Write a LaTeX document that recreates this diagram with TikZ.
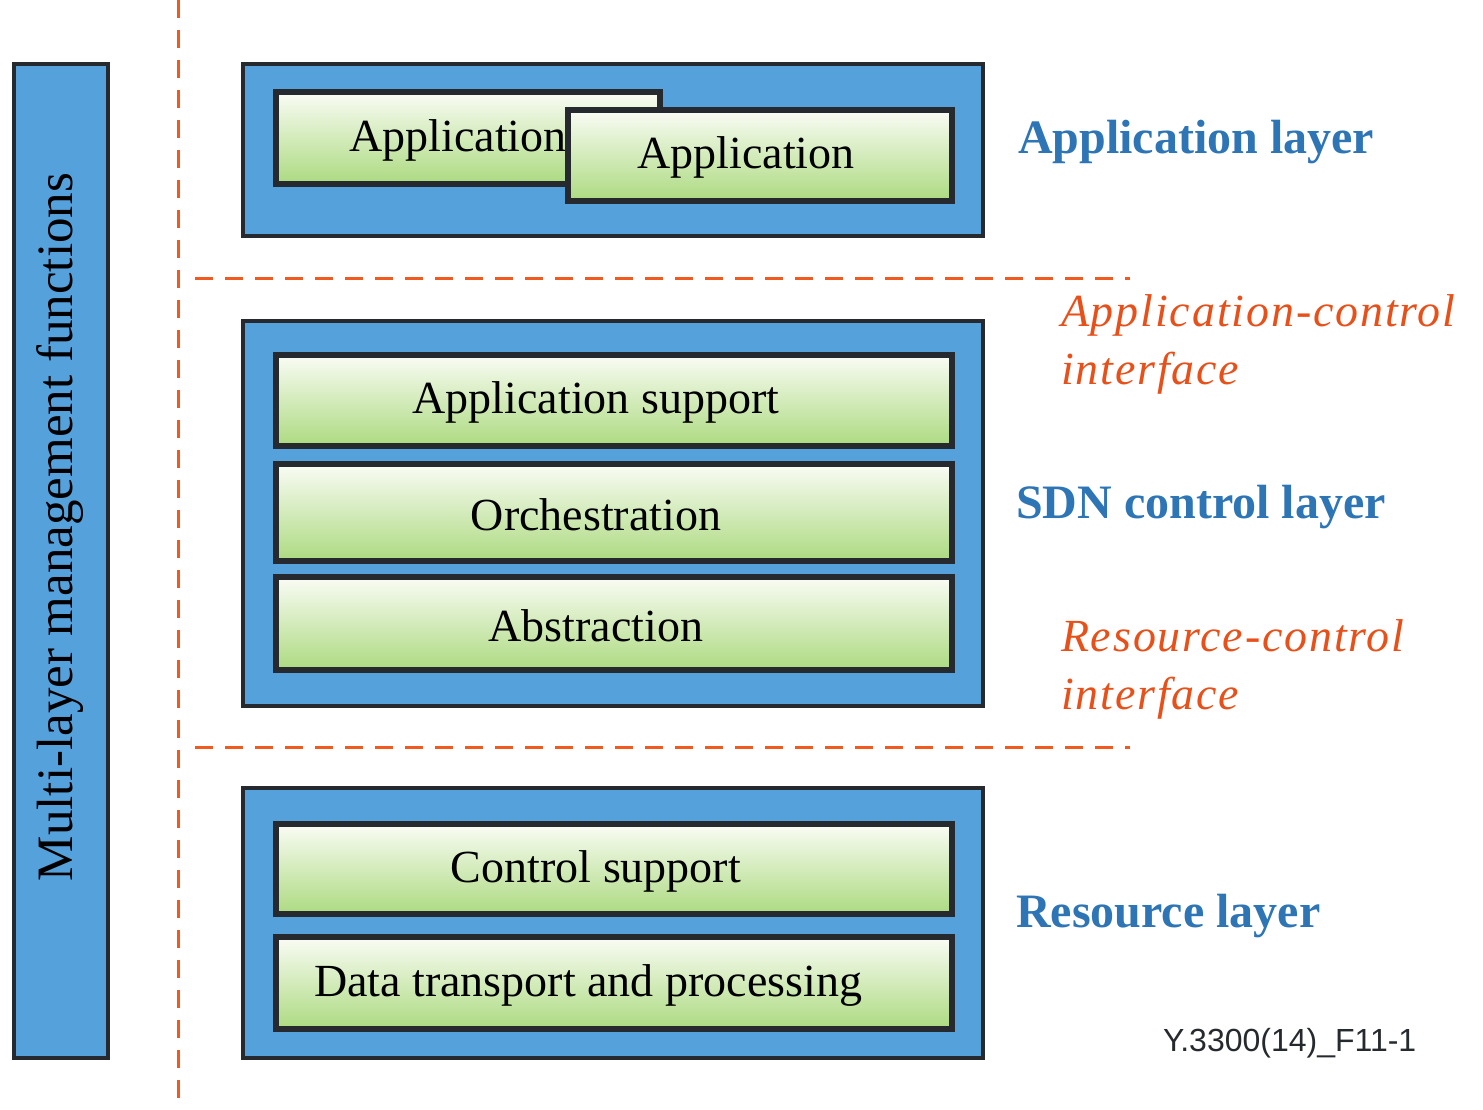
\documentclass[tikz,border=0pt]{standalone}
\usepackage{fontspec}
\setmainfont{Liberation Serif}
\newfontfamily\figsans{Liberation Sans}
\newfontfamily\ifacefont[LetterSpace=4]{Liberation Serif}
\definecolor{layerblue}{HTML}{55A1DC}
\definecolor{edgegray}{HTML}{262A2E}
\definecolor{titleblue}{HTML}{2E75B6}
\definecolor{ifaceorange}{HTML}{E8501A}
\definecolor{dashorange}{HTML}{F05A1E}
\definecolor{greentop}{HTML}{FAFCF5}
\definecolor{greenbot}{HTML}{ACDA80}
\begin{document}
\begin{tikzpicture}[line join=miter,x=.5pt,y=-.5pt,
		layer/.style={draw=edgegray,line width=2pt,fill=layerblue,minimum width=370pt},
		func/.style={draw=edgegray,line width=3pt,top color=greentop,bottom color=greenbot,minimum width=338pt},
		functext/.style={xshift=-9pt,yshift=-1pt,font=\fontsize{23}{27}\selectfont},
		lname/.style={anchor=west,text=titleblue,font=\fontsize{24}{28}\selectfont\bfseries},
		iface/.style={anchor=west,align=left,text=ifaceorange,font=\ifacefont\itshape\fontsize{23}{29}\selectfont},
		sep/.style={dashorange,line width=1.5pt,dash pattern=on 9pt off 6pt}]
		\useasboundingbox (0,0) rectangle (1483,1109);
		\draw[sep] (178,0)--(178,1109);
		\draw[sep] (195,278)--(1130,278);
		\draw[sep] (195,747)--(1130,747);
		\node[layer,minimum width=47pt,minimum height=497pt] (mgmt) at (61,561) {};
		\node[rotate=90,font=\fontsize{25.5}{30}\selectfont] (mgmttext) at (60,527) {Multi-layer management functions};
		\node[layer,minimum height=86pt] (applayer) at (613,150) {};
		\node[func,minimum width=192pt,minimum height=46pt,label={[functext,xshift=4pt]center:Application}] (app1) at (468,138) {};
		\node[func,minimum width=192pt,minimum height=45.5pt,label={[functext,xshift=2pt]center:Application}] (app2) at (760,155.5) {};
		\node[layer,minimum height=192.5pt] (ctrllayer) at (613,513.5) {};
		\node[func,minimum height=45.5pt,label={[functext]center:Application support}] (appsup) at (614,400.5) {};
		\node[func,minimum height=48.5pt,label={[functext]center:Orchestration}] (orch) at (614,512.5) {};
		\node[func,minimum height=46.5pt,label={[functext]center:Abstraction}] (abstr) at (614,623.5) {};
		\node[layer,minimum height=135pt] (reslayer) at (613,923) {};
		\node[func,minimum height=45pt,label={[functext]center:Control support}] (ctrlsup) at (614,869) {};
		\node[func,minimum height=46pt,label={[functext,xshift=-4pt]center:Data transport and processing}] (data) at (614,983) {};
		\node[lname] (appname) at (1011,142) {Application layer};
		\node[lname] (ctrlname) at (1009,507) {SDN control layer};
		\node[lname] (resname) at (1009,916) {Resource layer};
		\node[iface] (appctrl) at (1054,344) {Application-control\\interface};
		\node[iface] (resctrl) at (1054,669) {Resource-control\\interface};
		\node[anchor=west,text=edgegray,font=\figsans\fontsize{16}{19}\selectfont] (figno) at (1156,1043) {Y.3300(14)\_F11-1};
	\end{tikzpicture}
\end{document}
